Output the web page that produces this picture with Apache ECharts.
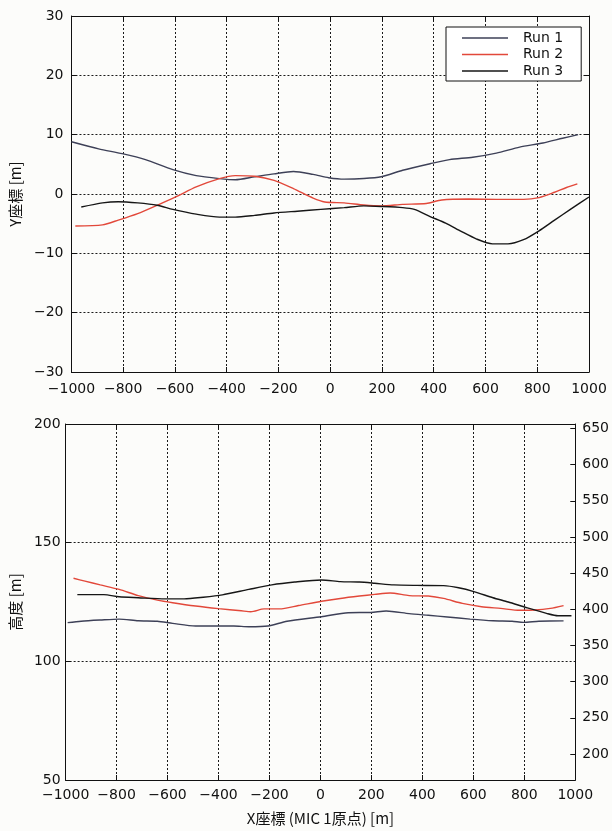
<!DOCTYPE html>
<html><head><meta charset="utf-8">
<script src="https://cdn.jsdelivr.net/npm/echarts@6/dist/echarts.min.js"></script>
<style>html,body{margin:0;padding:0;background:#fcfcfa}#c{width:612px;height:831px}</style>
</head><body><div id="c"></div>
<script>
// ---- data ----
const runNames = ['Run 1', 'Run 2', 'Run 3'];
const runColors = ['#3d4057', '#e2483a', '#161616'];

// Top plot: Y coordinate [m] vs X coordinate [m]
const run1TopX = [-1000,-895,-804,-714,-608,-518,-428,-367,-292,-217,-142,-66,-6,54,130,197,280,386,461,551,642,732,822,898,958];
const run1TopY = [8.8,7.6,6.8,5.8,4.1,3.1,2.6,2.4,2.9,3.4,3.8,3.3,2.75,2.5,2.6,2.9,4.0,5.1,5.8,6.2,6.9,7.9,8.6,9.4,10.0];
const run2TopX = [-985,-880,-819,-744,-669,-593,-518,-428,-367,-292,-217,-142,-66,-21,54,130,197,280,371,431,536,642,747,807,867,913,955];
const run2TopY = [-5.4,-5.2,-4.4,-3.3,-1.9,-0.4,1.2,2.6,3.1,3.0,2.3,0.9,-0.7,-1.35,-1.5,-1.85,-2.0,-1.75,-1.6,-1.0,-0.85,-0.9,-0.9,-0.6,0.3,1.1,1.7];
const run3TopX = [-962,-880,-819,-744,-669,-608,-518,-428,-367,-292,-217,-127,-36,54,130,197,280,325,386,446,506,566,627,687,747,807,867,928,1000];
const run3TopY = [-2.2,-1.5,-1.3,-1.5,-1.9,-2.6,-3.4,-3.9,-3.9,-3.6,-3.2,-2.9,-2.6,-2.3,-2.0,-2.1,-2.3,-2.6,-3.8,-4.9,-6.3,-7.6,-8.4,-8.4,-7.7,-6.2,-4.4,-2.6,-0.5];

// Bottom plot: altitude [m] vs X coordinate [m]
const run1BotX = [-992,-939,-864,-790,-715,-640,-580,-490,-400,-340,-281,-206,-131,4,109,198,258,348,423,498,587,677,752,797,857,954];
const run1BotY = [116.3,116.9,117.4,117.8,117.1,116.9,116.0,114.9,114.9,114.9,114.6,114.9,116.9,118.8,120.5,120.6,121.2,120.1,119.4,118.7,117.8,117.1,116.9,116.4,116.9,117.1];
const run2BotX = [-969,-924,-864,-790,-715,-640,-580,-490,-400,-311,-273,-221,-161,-86,4,78,153,213,273,348,423,483,557,632,707,782,842,902,954];
const run2BotY = [135.0,133.8,132.2,130.3,127.7,125.8,124.7,123.3,122.2,121.3,120.9,122.1,122.1,123.5,125.3,126.5,127.5,128.2,128.8,127.7,127.5,126.5,124.4,123.0,122.3,121.5,121.6,122.3,123.5];
const run3BotX = [-954,-850,-790,-715,-610,-535,-460,-385,-281,-191,-101,4,78,153,213,288,378,483,542,602,677,737,812,887,932,985];
const run3BotY = [128.1,128.1,127.2,126.8,126.3,126.3,127.0,128.0,130.3,132.2,133.4,134.3,133.6,133.4,132.9,132.2,132.0,131.9,131.0,129.4,126.8,125.0,122.5,120.2,119.2,119.2];

// Right-hand altitude axis in feet
const feetTicks = [200,250,300,350,400,450,500,550,600,650];
const M2FT = 3.28084;

// ---- chart ----
const zip = (xs, ys) => xs.map((x, i) => [x, ys[i]]);
const font = 'DejaVu Sans';
const cjk = '"Noto Sans CJK JP", "DejaVu Sans"';
const neg = v => String(v).replace('-', '\u2212');
const dotted = {show: true, lineStyle: {color: '#1a1a1a', width: 1, type: [2, 2]}};
const axisLine = {show: true, onZero: false, lineStyle: {color: '#111', width: 1}};
const tickIn = {show: true, inside: true, length: 5, lineStyle: {color: '#111'}};
const lbl = {color: '#111', fontFamily: font, fontSize: 14, formatter: neg};
const lineIcon = 'path://M0,0L46,0L46,1.5L0,1.5Z';

function xMain(grid, margin, name) {
  const a = {type: 'value', gridIndex: grid, position: 'bottom', min: -1000, max: 1000, interval: 200,
    axisLine, axisTick: tickIn, splitLine: dotted, axisLabel: Object.assign({margin}, lbl)};
  if (name) Object.assign(a, {name, nameLocation: 'middle', nameGap: 31,
    nameTextStyle: {fontFamily: cjk, fontSize: 15, color: '#111'}});
  return a;
}
function xTop(grid) {
  return {type: 'value', gridIndex: grid, position: 'top', min: -1000, max: 1000, interval: 200,
    axisLine, axisTick: tickIn, splitLine: {show: false}, axisLabel: {show: false}};
}

const option = {
  backgroundColor: '#fcfcfa',
  animation: false,
  grid: [
    {left: 70, right: 23, top: 16, height: 356},
    {left: 64, right: 29, top: 424, height: 356}
  ],
  legend: {
    data: runNames.map(n => ({name: n, icon: lineIcon})),
    orient: 'vertical', left: 446, top: 27,
    backgroundColor: '#ffffff', borderColor: '#111', borderWidth: 1, borderRadius: 0,
    padding: [4, 18, 3, 16], itemWidth: 46, itemHeight: 14, itemGap: 2.5,
    textStyle: {fontFamily: font, fontSize: 14, color: '#111', padding: [0, 0, 0, 10]}
  },
  xAxis: [xMain(0, 10), xTop(0), xMain(1, 8, 'X座標 (MIC 1原点) [m]'), xTop(1)],
  yAxis: [
    {type: 'value', gridIndex: 0, position: 'left', min: -30, max: 30, interval: 10,
      axisLine, axisTick: tickIn, splitLine: dotted, axisLabel: Object.assign({margin: 8}, lbl),
      name: 'Y座標 [m]', nameLocation: 'middle', nameGap: 46,
      nameTextStyle: {fontFamily: cjk, fontSize: 15, color: '#111'}},
    {type: 'value', gridIndex: 0, position: 'right', min: -30, max: 30, interval: 10,
      axisLine, axisTick: tickIn, splitLine: {show: false}, axisLabel: {show: false}},
    {type: 'value', gridIndex: 1, position: 'left', min: 50, max: 200, interval: 50,
      axisLine, axisTick: tickIn, splitLine: dotted, axisLabel: Object.assign({margin: 5}, lbl),
      name: '高度 [m]', nameLocation: 'middle', nameGap: 39,
      nameTextStyle: {fontFamily: cjk, fontSize: 15, color: '#111'}},
    {type: 'value', gridIndex: 1, position: 'right', min: 50 * M2FT, max: 200 * M2FT,
      axisLine, splitLine: {show: false},
      axisTick: Object.assign({customValues: feetTicks}, tickIn),
      axisLabel: Object.assign({margin: 7, customValues: feetTicks}, lbl)}
  ],
  series: []
};

const topData = [zip(run1TopX, run1TopY), zip(run2TopX, run2TopY), zip(run3TopX, run3TopY)];
const botData = [zip(run1BotX, run1BotY), zip(run2BotX, run2BotY), zip(run3BotX, run3BotY)];
runNames.forEach((n, i) => {
  const common = {name: n, type: 'line', symbol: 'none', smooth: 0.25, color: runColors[i],
    lineStyle: {width: 1.4, color: runColors[i]}, z: 3};
  option.series.push(Object.assign({xAxisIndex: 0, yAxisIndex: 0, data: topData[i]}, common));
  option.series.push(Object.assign({xAxisIndex: 2, yAxisIndex: 2, data: botData[i]}, common));
});

echarts.init(document.getElementById('c'), null, {renderer: 'canvas'}).setOption(option);
</script>
</body></html>
